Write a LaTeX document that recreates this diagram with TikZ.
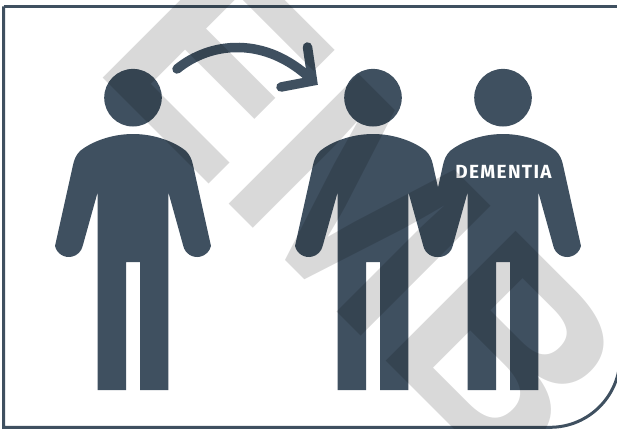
\documentclass[tikz,border=0pt]{standalone}
\usepackage{fontspec}
\setmainfont{Liberation Sans}
\newfontfamily\labelfont[LetterSpace=7]{Fira Sans}
\usepackage{xcolor}
\usetikzlibrary{calc}
\definecolor{slate}{HTML}{3F5060}

\begin{document}
\begin{tikzpicture}[x=1pt,y=-1pt,
  figure/.style={fill=slate},
  frameline/.style={draw=slate, line width=3pt},
  curvearr/.style={draw=slate, line width=9.5pt, line cap=round, line join=miter},
  person/.pic={
    \fill[figure] (0,-36.3) circle (28.8pt);
    \fill[figure] (0,0) .. controls (-22,0) and (-42,8) .. (-53,17)
      .. controls (-57,21) and (-59,26) .. (-60,31)
      -- (-78,112) arc[start angle=193, end angle=347, radius=14.2pt]
      -- (-35.3,58) -- (-35.3,256) -- (-7,256) -- (-7,128) -- (7,128) -- (7,256) -- (35.3,256) -- (35.3,58)
      -- (50.3,112) arc[start angle=193, end angle=347, radius=14.2pt]
      -- (60,31) .. controls (59,26) and (57,21) .. (53,17)
      .. controls (42,8) and (22,0) .. (0,0) -- cycle;
  },
]
\useasboundingbox (0,0) rectangle (617,428);

% --- frame ---
\begin{scope}
  \clip (0,0) rectangle (617,428);
  \draw[frameline] (3.5,6.3) -- (620,6.3);
  \draw[frameline] (3.5,6.3) -- (3.5,427.3) -- (550,427.3) arc[start angle=-90, end angle=0, radius=70pt];
\end{scope}

% --- people ---
\pic at (133,134) {person};
\pic at (373,134) {person};
\pic at (503,134) {person};
\node[text=white, font=\labelfont\bfseries\fontsize{19}{19}\selectfont, inner sep=0pt] (tag) at (503.5,172) {DEMENTIA};

% --- arrow ---
\draw[curvearr] (177,69) .. controls (210,42) and (265,35) .. (312,80);
\draw[curvearr] (307.5,47) -- (312.5,81) -- (281,87);

% --- watermark ---
\begin{scope}
  \clip (0,0) rectangle (617,428);
  \node[rotate=-45, anchor=base west, inner sep=0pt, text=black, text opacity=0.15,
        font=\bfseries\fontsize{267}{267}\selectfont] (mark) at (90.5,65.5) {EMB};
\end{scope}
\end{tikzpicture}
\end{document}
